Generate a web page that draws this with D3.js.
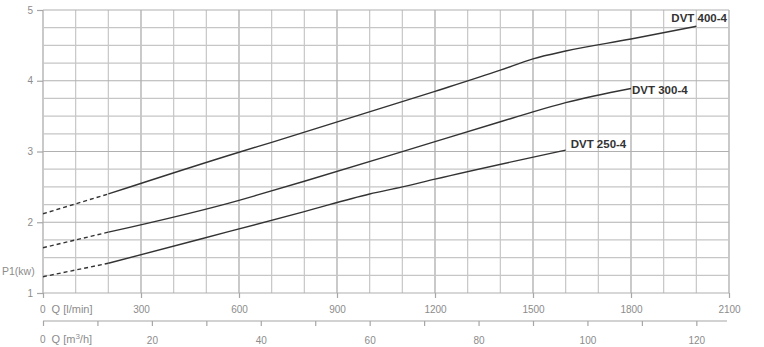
<!DOCTYPE html>
<html>
<head>
<meta charset="utf-8">
<script src="https://cdn.jsdelivr.net/npm/d3@7"></script>
<style>
	body { margin: 0; background: #fff; }
	svg { display: block; font-family: "Liberation Sans", Arial, sans-serif; }
	.tick-label { fill: #8c8c8c; font-size: 10px; }
	.curve-label { fill: #333; font-size: 11.5px; font-weight: bold; }
</style>
</head>
<body>
<svg id="chart"></svg>
<script>
// Data
const seriesNames = ["DVT 400-4", "DVT 300-4", "DVT 250-4"];
const flow400 = [0, 200, 600, 700, 1200, 1400, 1500, 1600, 1800, 2000];
const power400 = [2.12, 2.40, 2.99, 3.13, 3.85, 4.15, 4.31, 4.42, 4.59, 4.77];
const flow300 = [0, 200, 600, 660, 800, 1200, 1400, 1500, 1600, 1800];
const power300 = [1.64, 1.86, 2.31, 2.39, 2.58, 3.14, 3.42, 3.56, 3.69, 3.89];
const flow250 = [0, 200, 480, 800, 1000, 1100, 1200, 1600];
const power250 = [1.23, 1.42, 1.76, 2.15, 2.40, 2.50, 2.61, 3.02];
const dashedUntil = 200; // l/min, estimated part of each curve
const lpmTicks = [300, 600, 900, 1200, 1500, 1800, 2100];
const m3hTicks = [0, 10, 20, 30, 40, 50, 60, 70, 80, 90, 100, 110, 120];
const m3hLabels = [20, 40, 60, 80, 100, 120];
const powerTicks = [1, 2, 3, 4, 5];

class PowerChart{
	constructor(){
		const svgWidth = 764;
		const svgHeight = 347;
		this.svg = d3.select('#chart')
			.attr("width", svgWidth)
			.attr("height", svgHeight);

		this.x = d3.scaleLinear().domain([0, 2100]).range([43, 729]);
		this.xm3 = d3.scaleLinear().domain([0, 126]).range([43, 729]);
		this.y = d3.scaleLinear().domain([1, 5]).range([293, 10]);
	}

	drawGrid(){
		const x = this.x, y = this.y;
		const g = this.svg.append("g").attr("class", "grid");
		// vertical lines every 100 l/min
		g.selectAll(".vline")
			.data(d3.range(0, 2101, 100))
			.enter().append("line")
			.attr("x1", d => x(d)).attr("x2", d => x(d))
			.attr("y1", y(1)).attr("y2", y(5))
			.style("stroke", d => d % 300 === 0 ? "#a6a6a6" : "#c6c6c6")
			.style("stroke-width", 1.2);
		// horizontal lines every 0.25 kW
		g.selectAll(".hline")
			.data(d3.range(1, 5.001, 0.25))
			.enter().append("line")
			.attr("x1", x(0)).attr("x2", x(2100))
			.attr("y1", d => y(d)).attr("y2", d => y(d))
			.style("stroke", d => Number.isInteger(d) ? "#b0b0b0" : "#c6c6c6")
			.style("stroke-width", 1.2);
	}

	styleTicks(axis){
		axis.selectAll("line").style("stroke", "#a6a6a6").style("stroke-width", 1.2);
		axis.selectAll("text")
			.style("font-size", "10px")
			.style("fill", "#8c8c8c")
			.style("font-family", "Liberation Sans, Arial, sans-serif");
	}

	drawAxes(){
		const x = this.x, y = this.y, xm3 = this.xm3;

		// y axis
		const yAxis = this.svg.append("g")
			.attr("transform", "translate(" + x(0) + ",0)")
			.call(d3.axisLeft(y).tickValues(powerTicks).tickSize(6).tickPadding(4).tickFormat(d3.format("d")));
		yAxis.select(".domain").remove();
		this.styleTicks(yAxis);

		this.svg.append("text")
			.attr("class", "tick-label")
			.attr("x", 2).attr("y", 275)
			.style("font-size", "10.5px")
			.text("P1(kw)");

		// l/min axis on the bottom of the grid
		const xAxis = this.svg.append("g")
			.attr("transform", "translate(0," + y(1) + ")")
			.call(d3.axisBottom(x).tickValues([0].concat(lpmTicks)).tickSize(5).tickPadding(8).tickFormat(d => d === 0 ? "" : d));
		xAxis.select(".domain").remove();
		this.styleTicks(xAxis);

		const lpmUnit = this.svg.append("text")
			.attr("class", "tick-label")
			.attr("x", x(0) - 3).attr("y", 313);
		lpmUnit.append("tspan").text("0");
		lpmUnit.append("tspan").attr("dx", 6).style("font-size", "11px").text("Q [l/min]");

		// m3/h axis
		const m3Axis = this.svg.append("g")
			.attr("transform", "translate(0,321)")
			.call(d3.axisBottom(xm3).tickValues(m3hTicks).tickSize(5).tickSizeOuter(0).tickPadding(11)
				.tickFormat(d => m3hLabels.includes(d) ? d : ""));
		m3Axis.select(".domain").attr("d", "M" + xm3(0) + ",0H" + (xm3(126) - 2)).style("stroke", "#a6a6a6").style("stroke-width", 1.2);
		this.styleTicks(m3Axis);

		const unit = this.svg.append("text")
			.attr("class", "tick-label")
			.attr("x", x(0) - 3).attr("y", 343);
		unit.append("tspan").text("0");
		unit.append("tspan").attr("dx", 6).style("font-size", "11px").text("Q [m");
		unit.append("tspan").attr("dy", -4).style("font-size", "8px").text("3");
		unit.append("tspan").attr("dy", 4).style("font-size", "11px").text("/h]");
	}

	drawCurves(){
		const x = this.x, y = this.y;
		const flows = [flow400, flow300, flow250];
		const powers = [power400, power300, power250];
		const labelOffset = [[-25, -4], [1, 5], [5, -2]];

		const line = d3.line()
			.x(d => x(d.q))
			.y(d => y(d.p))
			.curve(d3.curveMonotoneX);

		seriesNames.forEach((name, i) => {
			const pts = flows[i].map((q, j) => ({q: q, p: powers[i][j]}));
			const dashed = pts.filter(d => d.q <= dashedUntil);
			const solid = pts.filter(d => d.q >= dashedUntil);

			this.svg.append("path")
				.attr("d", line(dashed))
				.style("fill", "none")
				.style("stroke", "#333")
				.style("stroke-width", 1.4)
				.style("stroke-dasharray", "4,3");

			this.svg.append("path")
				.attr("d", line(solid))
				.style("fill", "none")
				.style("stroke", "#333")
				.style("stroke-width", 1.4);

			const last = pts[pts.length - 1];
			this.svg.append("text")
				.attr("class", "curve-label")
				.attr("x", x(last.q) + labelOffset[i][0])
				.attr("y", y(last.p) + labelOffset[i][1])
				.text(name);
		});
	}
}

const chart = new PowerChart();
chart.drawGrid();
chart.drawAxes();
chart.drawCurves();
</script>
</body>
</html>
